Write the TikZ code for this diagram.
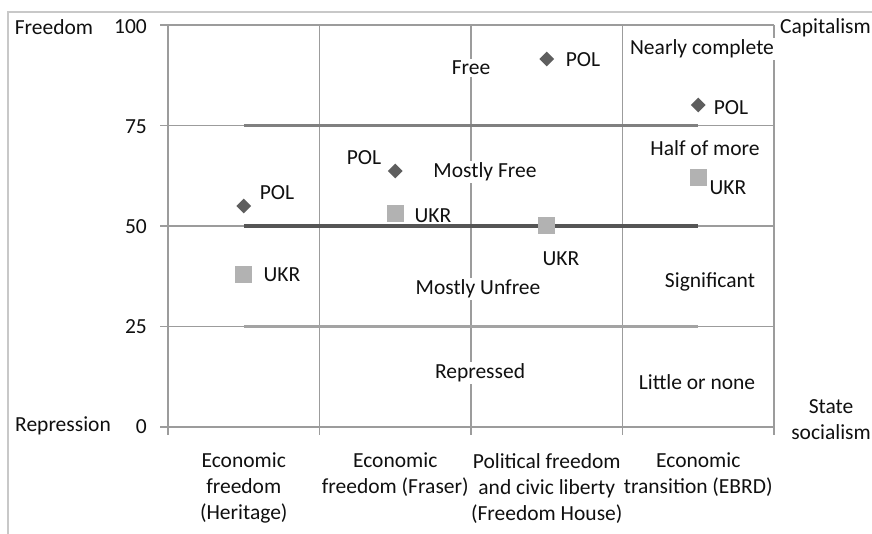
\documentclass[tikz,border=0pt]{standalone}
\usepackage{fontspec}
\setmainfont{Carlito}
\usetikzlibrary{shapes.geometric}
\definecolor{gridgray}{HTML}{9C9C9C}
\definecolor{framegray}{HTML}{C8C8C8}
\definecolor{polgray}{HTML}{5E5E5E}
\definecolor{ukrgray}{HTML}{B2B2B2}
\definecolor{bar75}{HTML}{808080}
\definecolor{bar50}{HTML}{555555}
\definecolor{bar25}{HTML}{A3A3A3}
\definecolor{txt}{HTML}{101010}
\begin{document}
\begin{tikzpicture}[x=1pt,y=-1pt,
  every node/.style={font=\fontsize{21.5}{26}\selectfont, text=txt, inner sep=0pt},
  gridline/.style={draw=gridgray, line width=1.3pt},
  barline/.style={line width=3.6pt},
  polmark/.style={diamond, fill=polgray, minimum width=15pt, minimum height=15pt},
  ukrmark/.style={rectangle, fill=ukrgray, minimum width=17pt, minimum height=17pt},
  zone/.style={fill=white, inner sep=2pt},
  catlbl/.style={align=center, anchor=north},
  tick/.style={anchor=east}]
\useasboundingbox (0,0) rectangle (872,534);
% outer frame
\draw[framegray, line width=1.3pt] (8,540) -- (8,12) -- (880,12);
% horizontal grid
\foreach \yy in {25,125.5,226,326.5,427} \draw[gridline] (160,\yy) -- (774,\yy);
% vertical grid
\foreach \xx in {168,319.5,471,622.5,774} \draw[gridline] (\xx,25) -- (\xx,435);
% thick bars
\draw[barline, bar75] (243.75,125.5) -- (698.25,125.5);
\draw[barline, bar50] (243.75,226) -- (698.25,226);
\draw[barline, bar25] (243.75,326.5) -- (698.25,326.5);
% zone labels
\node[zone] (free) at (471,68) {Free};
\node[zone] (mfree) at (485,172) {Mostly Free};
\node[zone] (munfree) at (478,289) {Mostly Unfree};
\node[zone] (repr) at (480,373) {Repressed};
\node[zone] (nearly) at (702,49) {Nearly complete};
\node[zone] (half) at (705,148) {Half of more};
\node[zone] (signif) at (710,282) {Significant};
\node[zone] (little) at (697,382) {Little or none};
% markers
\node[polmark] (p1) at (243.75,206) {};
\node[ukrmark] (u1) at (243.75,275) {};
\node[polmark] (p2) at (395.25,171) {};
\node[ukrmark] (u2) at (395.25,214) {};
\node[polmark] (p3) at (546.75,59) {};
\node[ukrmark] (u3) at (546.75,226) {};
\node[polmark] (p4) at (698.25,105) {};
\node[ukrmark] (u4) at (698.25,178) {};
% marker labels
\node (lp1) at (277,193) {POL};
\node (lu1) at (282,275) {UKR};
\node (lp2) at (364,158) {POL};
\node (lu2) at (433,216) {UKR};
\node (lp3) at (583,60) {POL};
\node (lu3) at (561,259) {UKR};
\node (lp4) at (731,108) {POL};
\node (lu4) at (728,188) {UKR};
% axis labels
\node (freedom) at (54,27) {Freedom};
\node (repression) at (63,426) {Repression};
\node[tick] (t100) at (147,27) {100};
\node[tick] (t75) at (147,127) {75};
\node[tick] (t50) at (147,227) {50};
\node[tick] (t25) at (147,327) {25};
\node[tick] (t0) at (147,427) {0};
\node[anchor=east] (capital) at (871,28) {Capitalism};
\node[align=center, anchor=east] (statesoc) at (871,420) {State\\socialism};
% category labels
\node[catlbl] (c1) at (243.75,453) {Economic\\freedom\\(Heritage)};
\node[catlbl] (c2) at (395.25,453) {Economic\\freedom (Fraser)};
\node[catlbl] (c3) at (546.75,453) {Political freedom\\and civic liberty\\(Freedom House)};
\node[catlbl] (c4) at (698.25,453) {Economic\\transition (EBRD)};
\end{tikzpicture}
\end{document}
